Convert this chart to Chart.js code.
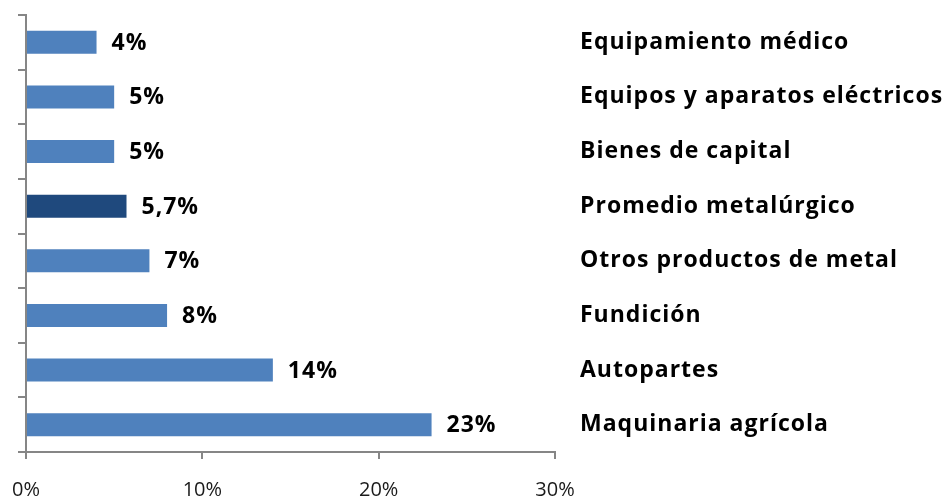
<!DOCTYPE html>
<html>
<head>
<meta charset="utf-8">
<script src="https://cdn.jsdelivr.net/npm/chart.js@4/dist/chart.umd.min.js"></script>
<style>
  html, body { margin: 0; padding: 0; background: #fff; }
  #wrap { width: 948px; height: 497px; }
</style>
</head>
<body>
<div id="wrap"><canvas id="chart"></canvas></div>
<script>
// data (top to bottom)
const categories = [
  'Equipamiento médico',
  'Equipos y aparatos eléctricos',
  'Bienes de capital',
  'Promedio metalúrgico',
  'Otros productos de metal',
  'Fundición',
  'Autopartes',
  'Maquinaria agrícola'
];
const values = [4, 5, 5, 5.7, 7, 8, 14, 23];
const valueLabels = ['4%', '5%', '5%', '5,7%', '7%', '8%', '14%', '23%'];
const xTicks = [0, 10, 20, 30];

const light = '#4F81BD';
const dark = '#1F497D';
const axisGrey = '#868686';
const fontFamily = '"Open Sans", sans-serif';

const labelsPlugin = {
  id: 'sideLabels',
  afterDatasetsDraw(chart) {
    const { ctx } = chart;
    const meta = chart.getDatasetMeta(0);
    ctx.save();
    ctx.fillStyle = '#000';
    ctx.textBaseline = 'middle';
    ctx.textAlign = 'left';
    ctx.font = 'bold 23px ' + fontFamily;
    ctx.letterSpacing = '1px';
    meta.data.forEach((bar, i) => {
      ctx.fillText(valueLabels[i], bar.x + 15, bar.y + 1);
      ctx.fillText(categories[i], 580, bar.y);
    });
    ctx.restore();
  }
};

// keep the axes at fixed sizes so the plot area lines up with the picture
function noPad(s) { s.paddingLeft = s.paddingRight = s.paddingTop = s.paddingBottom = 0; }

new Chart(document.getElementById('chart'), {
  type: 'bar',
  data: {
    labels: categories,
    datasets: [{
      data: values,
      backgroundColor: values.map((v, i) => i === 3 ? dark : light),
      barPercentage: 0.42,
      categoryPercentage: 1
    }]
  },
  options: {
    indexAxis: 'y',
    responsive: true,
    maintainAspectRatio: false,
    animation: false,
    layout: { padding: { left: 18, right: 393, top: 15, bottom: 0 } },
    plugins: { legend: { display: false }, tooltip: { enabled: false } },
    scales: {
      y: {
        afterFit(s) { s.width = 8; noPad(s); },
        grid: { offset: true, drawOnChartArea: false, tickLength: 8, color: axisGrey, lineWidth: 2 },
        border: { color: axisGrey, width: 2 },
        ticks: { display: false }
      },
      x: {
        min: 0,
        max: 30,
        afterBuildTicks(scale) { scale.ticks = xTicks.map(v => ({ value: v })); },
        afterFit(s) { s.height = 45; noPad(s); },
        grid: { drawOnChartArea: false, tickLength: 7, color: axisGrey, lineWidth: 2 },
        border: { color: axisGrey, width: 2 },
        ticks: {
          padding: 21,
          color: '#1a1a1a',
          font: { family: fontFamily, size: 20, lineHeight: 1 },
          maxRotation: 0,
          callback: v => v + '%'
        }
      }
    }
  },
  plugins: [labelsPlugin]
});
</script>
</body>
</html>
